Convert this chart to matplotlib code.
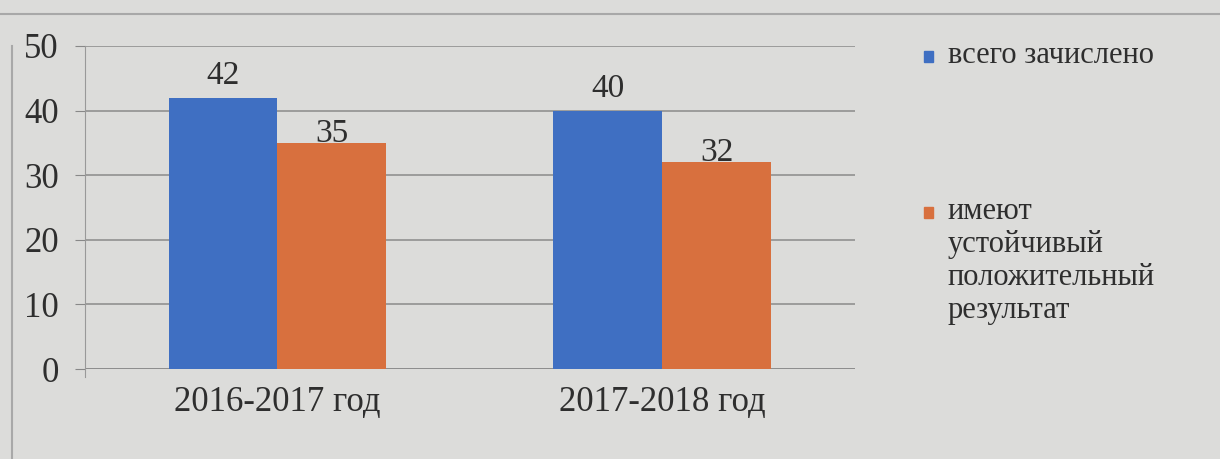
import matplotlib.pyplot as plt
import matplotlib.patches as patches
from matplotlib.lines import Line2D
import numpy as np

# data
years = ['2016-2017 год', '2017-2018 год']
enrolled = [42, 40]
stable = [35, 32]
series_names = ['всего зачислено', 'имеют\nустойчивый\nположительный\nрезультат']
colors = ['#3f6fc2', '#d8703e']

plt.rcParams['font.family'] = ['Liberation Serif', 'DejaVu Serif']

fig = plt.figure(figsize=(12.2, 4.59), dpi=100)
fig.patch.set_facecolor('#dcdcda')
ax = fig.add_axes([0.0697, 0.196, 0.631, 0.704])
ax.set_facecolor('#dcdcda')

x = np.arange(len(years))
w = 0.283
b1 = ax.bar(x - w / 2, enrolled, w, color=colors[0], zorder=3)
b2 = ax.bar(x + w / 2, stable, w, color=colors[1], zorder=3)

# orange labels sit lower, right on the bar top
for bars, off in ((b1, 1.0), (b2, -0.9)):
    for r in bars:
        ax.text(r.get_x() + r.get_width() / 2, r.get_height() + off, str(int(r.get_height())),
                ha='center', va='bottom', fontsize=24, color='#2e2e2e', zorder=4)

ax.set_xlim(-0.5, 1.5)
ax.set_yticks(range(0, 51, 10))
ax.set_xticks(x)
ax.set_xticklabels(years)
ax.tick_params(axis='y', length=7, color='#888888', labelsize=25, labelcolor='#2e2e2e', pad=12)
ax.tick_params(axis='x', length=0, labelsize=25, labelcolor='#2e2e2e', pad=12)
ax.grid(axis='y', color='#8a8a8a', linewidth=1.1, zorder=0)
for s in ['top', 'right', 'bottom']:
    ax.spines[s].set_visible(False)
ax.spines['left'].set_color('#999999')
ax.spines['left'].set_bounds(-1.2, 50)
ax.set_ylim(0, 50)
ax.axhline(0, color='#8a8a8a', linewidth=1.1, zorder=1)

# legend drawn by hand
leg_y = [0.877, 0.537]
for c, name, ly in zip(colors, series_names, leg_y):
    fig.patches.append(patches.Rectangle((0.757, ly - 0.013), 0.0075, 0.025, color=c,
                                         transform=fig.transFigure, figure=fig))
    fig.text(0.777, ly + 0.033, name, ha='left', va='top', fontsize=22,
             color='#2e2e2e', linespacing=1.17)

# photo frame lines
fig.add_artist(Line2D([0, 1], [0.969, 0.969], color='#a8a8a8', lw=1.5, transform=fig.transFigure))
fig.add_artist(Line2D([0.01, 0.01], [0, 0.9], color='#a8a8a8', lw=1.5, transform=fig.transFigure))

fig.savefig('out.png', dpi=100, facecolor=fig.get_facecolor())
